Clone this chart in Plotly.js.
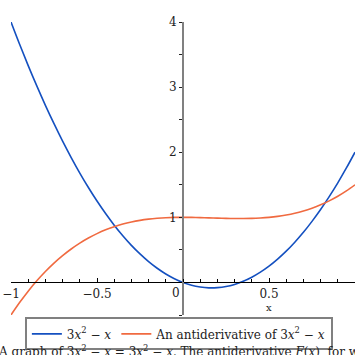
<!DOCTYPE html>
<html>
<head>
<meta charset="utf-8">
<script src="https://cdn.plot.ly/plotly-3.0.1.min.js"></script>
<style>html,body{margin:0;padding:0;background:#fff;overflow:hidden}#plot{width:355px;height:355px}</style>
</head>
<body>
<div id="plot"></div>
<script>
const xs = [-1,-0.95,-0.9,-0.85,-0.8,-0.75,-0.7,-0.65,-0.6,-0.55,-0.5,-0.45,-0.4,-0.35,-0.3,-0.25,-0.2,-0.15,-0.1,-0.05,0,0.05,0.1,0.15,0.2,0.25,0.3,0.35,0.4,0.45,0.5,0.55,0.6,0.65,0.7,0.75,0.8,0.85,0.9,0.95,1];
const fVals = [4,3.658,3.33,3.018,2.72,2.438,2.17,1.918,1.68,1.458,1.25,1.058,0.88,0.718,0.57,0.438,0.32,0.218,0.13,0.058,0,-0.043,-0.07,-0.083,-0.08,-0.063,-0.03,0.018,0.08,0.158,0.25,0.358,0.48,0.618,0.77,0.938,1.12,1.318,1.53,1.758,2];
const FVals = [-0.5,-0.309,-0.134,0.025,0.168,0.297,0.412,0.514,0.604,0.682,0.75,0.808,0.856,0.896,0.928,0.953,0.972,0.985,0.994,0.999,1,0.999,0.996,0.992,0.988,0.984,0.982,0.982,0.984,0.99,1,1.015,1.036,1.063,1.098,1.141,1.192,1.253,1.324,1.406,1.5];
const xTickVals = [-1,-0.5,0.5,1];
const xTickText = ["−1","−0.5","0.5","1"];
const yTickVals = [1,2,3,4];
const yTickText = ["1","2","3","4"];
const seriesNames = ["3<i>x</i><sup>2</sup> − <i>x</i>", "An antiderivative of 3<i>x</i><sup>2</sup> − <i>x</i>"];
const caption = "A graph of 3<i>x</i><sup>2</sup> − <i>x</i> = 3<i>x</i><sup>2</sup> − <i>x</i>. The antiderivative <i>F</i>(<i>x</i>), for which <i>F</i>(0) = 1, is also shown.";

const font = "DejaVu Serif, serif";
const traces = [
  {x: xs, y: fVals, name: seriesNames[0], mode: 'lines', line: {color: '#1450c0', width: 1.6, shape: 'spline'}},
  {x: xs, y: FVals, name: seriesNames[1], mode: 'lines', line: {color: '#f06a40', width: 1.6, shape: 'spline'}}
];
const layout = {
  width: 355, height: 355,
  margin: {l: 11, r: 0, t: 22, b: 40, pad: 0},
  paper_bgcolor: '#fff', plot_bgcolor: '#fff',
  font: {family: font, size: 12, color: '#222'},
  showlegend: true,
  legend: {orientation: 'h', x: 0.488, xanchor: 'center', y: -0.008, yanchor: 'top',
    bordercolor: '#808080', borderwidth: 2, bgcolor: '#fff',
    font: {family: font, size: 12, color: '#222'}, tracegroupgap: 0, itemwidth: 30},
  xaxis: {range: [-1, 1], anchor: 'free', position: 0.5/4.5, showgrid: false, zeroline: false,
    showline: true, linecolor: '#000', linewidth: 1,
    tickmode: 'array', tickvals: xTickVals, ticktext: xTickText,
    ticks: 'inside', ticklen: 4, tickcolor: '#000', tickwidth: 1,
    minor: {dtick: 0.1, ticks: 'inside', ticklen: 3, tickcolor: '#000', showgrid: false},
    tickfont: {family: font, size: 12, color: '#222'}, fixedrange: true},
  yaxis: {range: [-0.5, 4], anchor: 'free', position: 0.5, showgrid: false, zeroline: false,
    showline: true, linecolor: '#808080', linewidth: 2,
    tickmode: 'array', tickvals: yTickVals, ticktext: yTickText,
    ticks: 'outside', ticklen: 3, tickcolor: '#222', tickwidth: 1,
    minor: {tickvals: [-0.5,0.5,1.5,2.5,3.5], ticks: 'outside', ticklen: 3, tickcolor: '#222', showgrid: false},
    tickfont: {family: font, size: 12, color: '#222'}, fixedrange: true},
  annotations: [
    {x: 0, y: 0, xref: 'x', yref: 'y', text: '0', showarrow: false, xshift: -7, yshift: -11,
      font: {family: font, size: 12, color: '#222'}},
    {x: 0.5, y: 0, xref: 'x', yref: 'y', text: 'x', showarrow: false, yshift: -25,
      font: {family: font, size: 10, color: '#222'}},
    {x: -0.045, y: -0.124, xref: 'paper', yref: 'paper', xanchor: 'left', yanchor: 'middle',
      text: caption, showarrow: false, font: {family: font, size: 12, color: '#222'}}
  ]
};
Plotly.newPlot('plot', traces, layout, {staticPlot: true, displayModeBar: false});
</script>
</body>
</html>
